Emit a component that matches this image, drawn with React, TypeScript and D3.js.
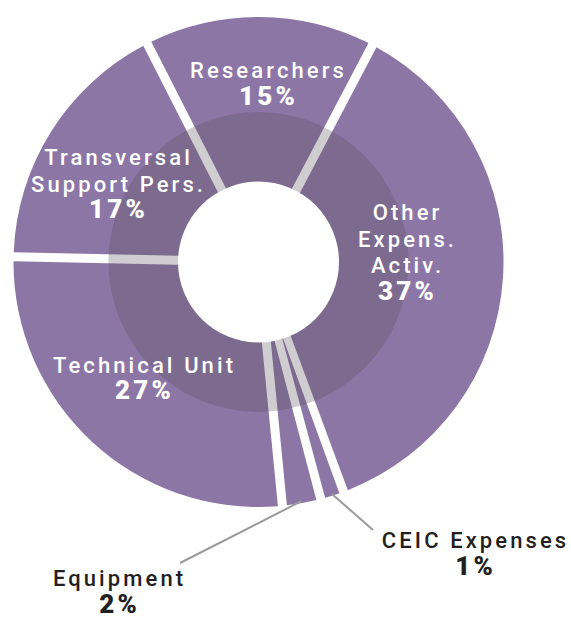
import { pie, arc } from 'd3'

// slices clockwise, starting at the top-left gap
const categories = ['Researchers', 'Other Expens. Activ.', 'CEIC Expenses', 'Equipment', 'Technical Unit', 'Transversal Support Pers.']
const shares = [15, 37, 1, 2, 27, 17]
const nameLines = [['Researchers'], ['Other', 'Expens.', 'Activ.'], ['CEIC Expenses'], ['Equipment'], ['Technical Unit'], ['Transversal', 'Support Pers.']]
const outside = ['CEIC Expenses', 'Equipment']

const W = 571
const H = 617
const cx = 258.5
const cy = 262
const outerR = 245
const shadeR = 150
const holeR = 80.5
const gap = 9
const lineH = 26.5
const nameSpacing = 3.1
const pctSpacing = 3.2

// where each label block starts (center x, first baseline) and, for outside ones, where the leader ends
const labelLayout: Record<string, { x: number, y: number, lx?: number, ly?: number }> = {
  'Researchers': { x: 267, y: 78 },
  'Other Expens. Activ.': { x: 406, y: 220 },
  'CEIC Expenses': { x: 474, y: 548, lx: 373, ly: 530 },
  'Equipment': { x: 118, y: 586, lx: 180, ly: 563 },
  'Technical Unit': { x: 143, y: 372.5 },
  'Transversal Support Pers.': { x: 117, y: 165 },
}

const start = -27 * Math.PI / 180

export default function App() {
  const slices = pie<number>()
    .sort(null)
    .startAngle(start)
    .endAngle(start + 2 * Math.PI)
    .padAngle(gap / outerR)(shares)

  const arcGen = arc<any>().innerRadius(70).outerRadius(outerR).padRadius(outerR)

  return (
    <svg width={W} height={H} style={{ position: 'absolute', left: 0, top: 0, background: '#fff' }}>
      <g transform={`translate(${cx},${cy})`}>
        {slices.map((s, i) => (
          <path key={categories[i]} d={arcGen(s) as string} fill="#8c76a6" />
        ))}
        <circle r={shadeR} fill="rgb(84,74,86)" opacity={0.28} />
        <circle r={holeR} fill="#fff" />
        {slices.map((s, i) => {
          const name = categories[i]
          const pos = labelLayout[name]
          if (pos.lx === undefined) return null
          const a = (s.startAngle + s.endAngle) / 2
          const r = outerR - 2
          return (
            <line key={'l' + name}
              x1={Math.sin(a) * r} y1={-Math.cos(a) * r}
              x2={pos.lx - cx} y2={(pos.ly as number) - cy}
              stroke="#9a9a9a" strokeWidth={2} />
          )
        })}
      </g>
      {categories.map((name, i) => {
        const pos = labelLayout[name]
        const dark = outside.includes(name)
        const col = dark ? '#231f20' : '#fff'
        const lines = nameLines[i]
        return (
          <g key={'t' + name} textAnchor="middle" fill={col}>
            {lines.map((t, j) => (
              <text key={j} x={pos.x + nameSpacing / 2} y={pos.y + j * lineH}
                style={{ fontFamily: 'Roboto, sans-serif', fontWeight: 500, fontSize: 22, letterSpacing: `${nameSpacing}px` }}>
                {t}
              </text>
            ))}
            <text x={pos.x + pctSpacing / 2} y={pos.y + lines.length * lineH}
              style={{ fontFamily: 'Roboto, sans-serif', fontWeight: 900, fontSize: 26, letterSpacing: `${pctSpacing}px` }}>
              {shares[i]}%
            </text>
          </g>
        )
      })}
    </svg>
  )
}
